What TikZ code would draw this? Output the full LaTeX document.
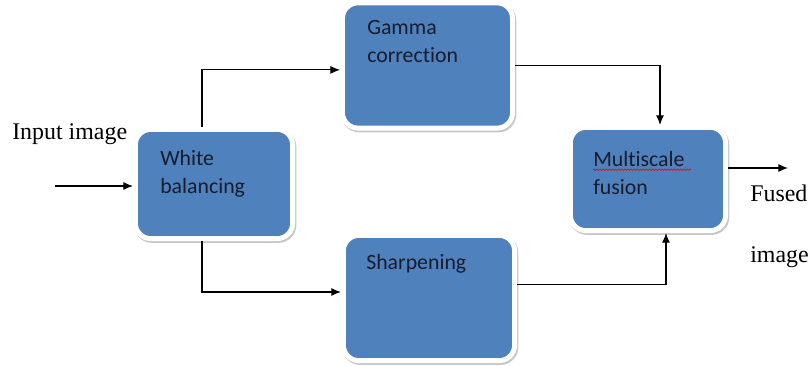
\documentclass[tikz,border=0pt]{standalone}
\usepackage{fontspec}
\setmainfont{Liberation Serif}
\newfontfamily\boxfont[Ligatures={NoCommon,NoRequired,NoContextual}]{Carlito}
\usetikzlibrary{arrows.meta,calc,positioning,decorations.pathmorphing}
\definecolor{boxblue}{RGB}{79,129,189}
\definecolor{boxtext}{RGB}{22,28,45}
\tikzset{
stagebox/.style={
  rectangle,
  rounded corners=11pt,
  line width=3.5pt,
  draw=white,
  fill=boxblue,
  preaction={draw=black!22, fill=black!22, line width=3.5pt,
    transform canvas={shift={(0.9pt,-1.3pt)}}},
  }
}
\tikzset{
stagetext/.style={
  font=\boxfont\fontsize{15.5}{20}\selectfont,
  text=boxtext,
  align=left,
  inner sep=0pt,
  anchor=base west,
  }
}
\tikzset{
plaintext/.style={
  font=\fontsize{17}{20}\selectfont,
  inner sep=0pt,
  anchor=base west,
  }
}
\tikzset{
myline/.style={
  line width=0.8pt,
  -{Latex[length=2.4mm,width=2mm]}
  }
}

\begin{document}
\begin{tikzpicture}[x=0.025cm,y=-0.025cm]
    \useasboundingbox (0,0) rectangle (810,366);

    % stages
    \node[stagebox, minimum width=3.93cm, minimum height=2.73cm] (wb) at (214,184) {};
    \node[stagebox, minimum width=4.25cm, minimum height=3.13cm] (gc) at (427.5,65.5) {};
    \node[stagebox, minimum width=4.28cm, minimum height=3.13cm] (sh) at (429,298) {};
    \node[stagebox, minimum width=3.88cm, minimum height=2.58cm] (mf) at (648,179) {};

    % stage labels (anchored on the last line)
    \node[stagetext] (wb_txt) at (160,194) {White\\balancing};
    \node[stagetext] (gc_txt) at (367,63) {Gamma\\correction};
    \node[stagetext] (sh_txt) at (366,270) {Sharpening};
    \node[stagetext] (mf_txt) at (593,195) {Multiscale\\fusion};
    \draw[red, line width=0.5pt, decorate,
      decoration={snake, amplitude=0.5pt, segment length=2.2pt}]
      ([yshift=18pt]mf_txt.base west) -- ++(98,0);

    % in and out
    \node[plaintext] (in_txt) at (12,140) {Input image};
    \node[plaintext] (out_txt) at (750,202) {Fused};
    \node[plaintext] (out_txt2) at (750,263) {image};
    \coordinate (in) at (55,186);
    \coordinate (out) at (788,168);

    % edges
    \draw[myline] (in) -- (wb.west |- in);
    \draw[myline] ([xshift=-0.3cm]wb.north) |- ([yshift=-0.11cm]gc.west);
    \draw[myline] ([xshift=-0.3cm]wb.south) |- ([yshift=0.15cm]sh.west);
    \draw[myline] (gc.east) -| ([xshift=0.3cm]mf.north);
    \draw[myline] ([yshift=0.33cm]sh.east) -| ([xshift=0.45cm]mf.south);
    \draw[myline] (mf.east |- out) -- (out);
  \end{tikzpicture}
\end{document}
